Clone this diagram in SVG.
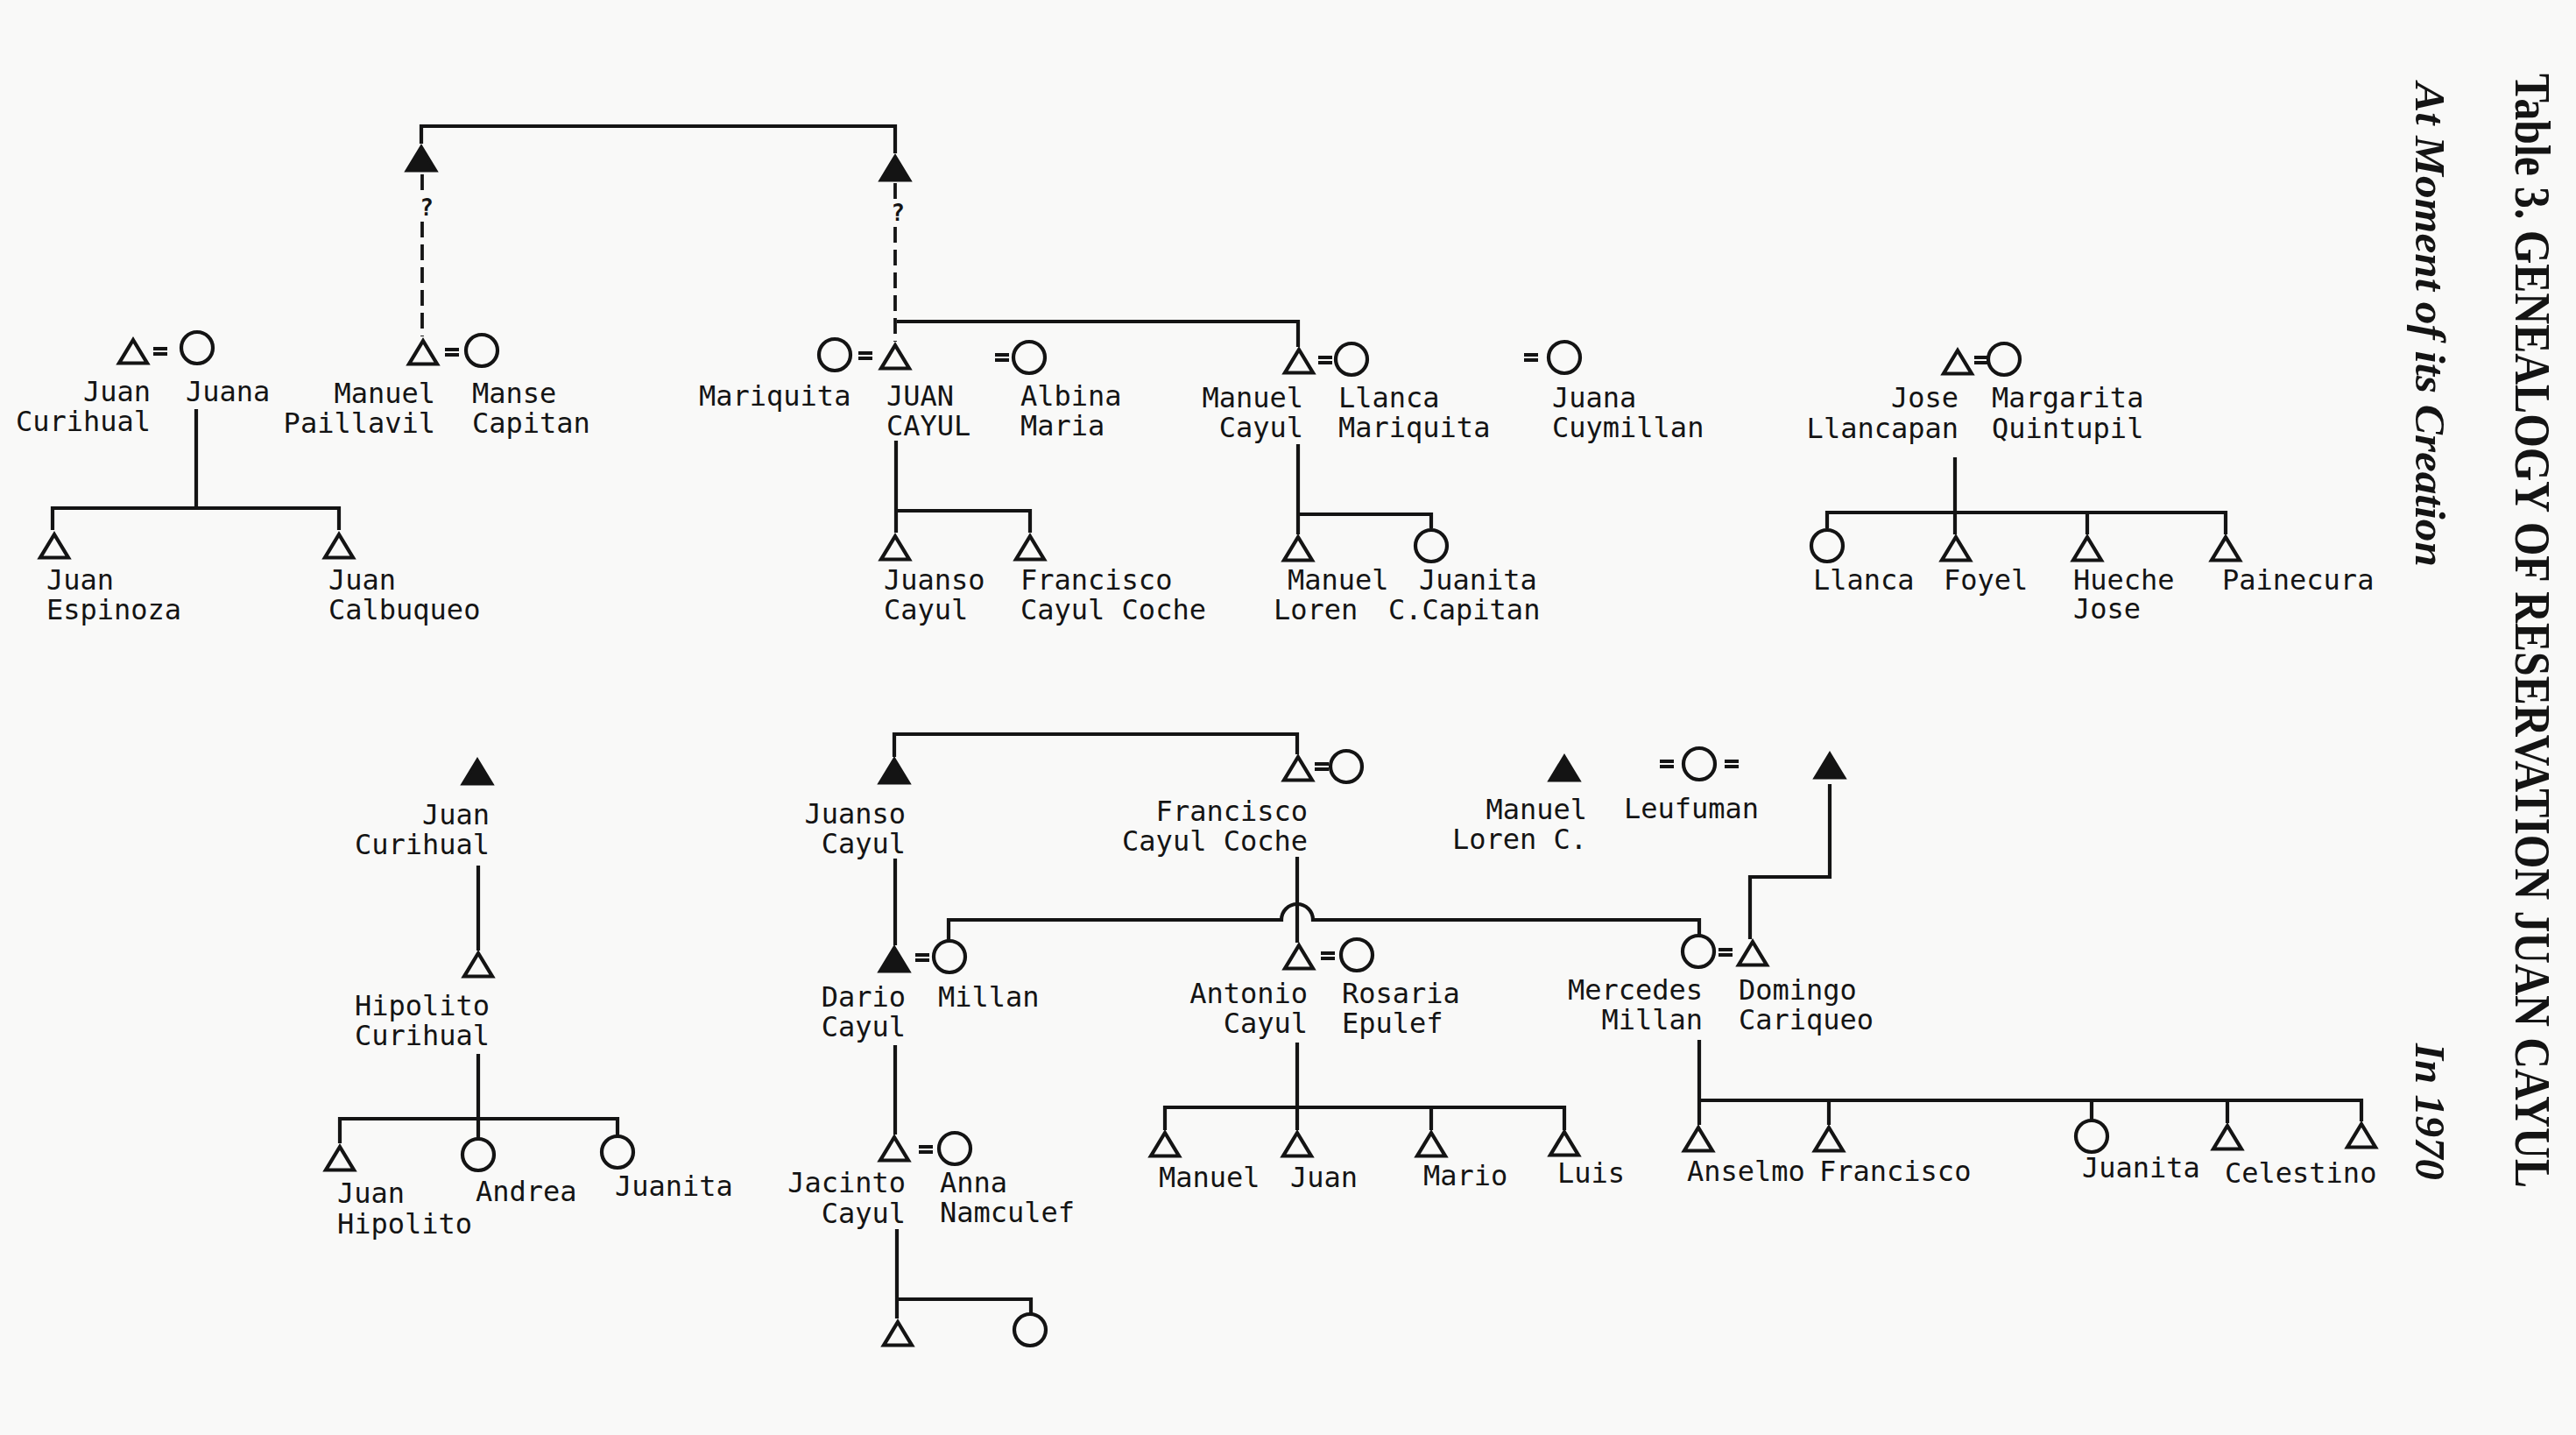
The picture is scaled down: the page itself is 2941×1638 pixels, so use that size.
<svg xmlns="http://www.w3.org/2000/svg" xmlns:xlink="http://www.w3.org/1999/xlink" width="2941" height="1638" viewBox="0 0 2941 1638">
<style>
.s{stroke:#141414;stroke-width:4.2;fill:none;stroke-linejoin:miter}
.f{stroke:#141414;stroke-width:4.2;fill:#141414;stroke-linejoin:miter}
.l{font-family:"DejaVu Sans Mono","Liberation Mono",monospace;font-size:32px;fill:#141414}
.e{text-anchor:end}
.q{font-family:"DejaVu Sans Mono","Liberation Mono",monospace;font-size:26px;font-weight:bold;fill:#141414;text-anchor:middle}
#connectors path{stroke:#141414;stroke-width:4.2;fill:none}
#connectors path.d{stroke-width:3.8;stroke-dasharray:18 8}
.eq rect{fill:#141414}
.ti{font-family:"Liberation Serif",serif;font-weight:bold;fill:#141414}
</style>
<defs>
<path id="t" d="M0,-13 L16,13.5 L-16,13.5 Z"/>
<circle id="c" r="18"/>
<g id="eq" class="eq"><rect x="-8" y="-5" width="16" height="4"/><rect x="-8" y="1" width="16" height="4"/></g>
</defs>
<rect width="2941" height="1638" fill="#f9f9f8"/>

<g id="title">
<text class="ti" font-size="58" transform="translate(2872,84) rotate(90)" textLength="1272" lengthAdjust="spacingAndGlyphs">Table 3. GENEALOGY OF RESERVATION JUAN CAYUL</text>
<text class="ti" font-size="48" font-style="italic" transform="translate(2758,94) rotate(90)" textLength="553" lengthAdjust="spacingAndGlyphs">At Moment of its Creation</text>
<text class="ti" font-size="48" font-style="italic" transform="translate(2758,1191) rotate(90)" textLength="156" lengthAdjust="spacingAndGlyphs">In 1970</text>
</g>

<g id="connectors">
<path d="M481,164 V144 H1022 V175"/>
<path class="d" d="M482,199 V218 M482,253 V384"/>
<path class="d" d="M1022,209 V227 M1022,259 V390"/>
<path d="M1024,367 H1482 V396"/>
<path d="M224,467 V580 M60,605 V580 H387 V605"/>
<path d="M1023,503 V583 H1176 V608 M1023,583 V608"/>
<path d="M1482,507 V587 H1634 V603 M1482,587 V610"/>
<path d="M2232,522 V585 M2086,603 V585 H2541 V610 M2232,585 V610 M2383,585 V610"/>
<path d="M1021,864 V838 H1481 V861"/>
<path d="M546,988 V1085"/>
<path d="M546,1203 V1277 M388,1305 V1277 H705 V1296 M546,1277 V1299"/>
<path d="M1022,980 V1079"/>
<path d="M2089,895 V1001 H1998 V1072"/>
<path d="M1083,1073 V1050 H1463 A18,18 0 0 1 1499,1050 H1940 V1067"/>
<path d="M1481,978 V1076"/>
<path d="M1481,1190 V1264 M1330,1290 V1264 H1786 V1290 M1481,1264 V1290 M1634,1264 V1290"/>
<path d="M1940,1187 V1256 H2696 V1280 M1940,1256 V1284 M2088,1256 V1284 M2388,1256 V1278 M2543,1256 V1282"/>
<path d="M1022,1193 V1295"/>
<path d="M1024,1403 V1505 M1024,1483 H1177 V1499"/>
<use href="#eq" x="183" y="401"/>
<use href="#eq" x="516" y="402"/>
<use href="#eq" x="988" y="406"/>
<use href="#eq" x="1144" y="408"/>
<use href="#eq" x="1513" y="411"/>
<use href="#eq" x="1748" y="408"/>
<use href="#eq" x="2262" y="411"/>
<use href="#eq" x="1509" y="875"/>
<use href="#eq" x="1903" y="872"/>
<use href="#eq" x="1977" y="872"/>
<use href="#eq" x="1053" y="1093"/>
<use href="#eq" x="1516" y="1091"/>
<use href="#eq" x="1970" y="1087"/>
<use href="#eq" x="1057" y="1312"/>
<text class="q" x="487" y="246">?</text>
<text class="q" x="1025" y="252">?</text>
</g>

<g id="n-juan-curihual-1"><use href="#t" class="s" x="152" y="401"/><text class="l e" x="172" y="458">Juan</text><text class="l e" x="172" y="492">Curihual</text></g>
<g id="n-juana"><use href="#c" class="s" x="225" y="397"/><text class="l" x="212" y="458">Juana</text></g>
<g id="n-manuel-paillavil"><use href="#t" class="s" x="483" y="402"/><text class="l e" x="497" y="460">Manuel</text><text class="l e" x="497" y="494">Paillavil</text></g>
<g id="n-manse-capitan"><use href="#c" class="s" x="550" y="400"/><text class="l" x="539" y="460">Manse</text><text class="l" x="539" y="494">Capitan</text></g>
<g id="n-ancestor-1"><use href="#t" class="f" x="481" y="181"/></g>
<g id="n-ancestor-2"><use href="#t" class="f" x="1022" y="192"/></g>
<g id="n-mariquita"><use href="#c" class="s" x="953" y="405"/><text class="l" x="798" y="463">Mariquita</text></g>
<g id="n-juan-cayul"><use href="#t" class="s" x="1022" y="407"/><text class="l" x="1012" y="463">JUAN</text><text class="l" x="1012" y="497">CAYUL</text></g>
<g id="n-albina-maria"><use href="#c" class="s" x="1175" y="408"/><text class="l" x="1165" y="463">Albina</text><text class="l" x="1165" y="497">Maria</text></g>
<g id="n-manuel-cayul"><use href="#t" class="s" x="1483" y="412"/><text class="l e" x="1488" y="465">Manuel</text><text class="l e" x="1488" y="499">Cayul</text></g>
<g id="n-llanca-mariquita"><use href="#c" class="s" x="1543" y="410"/><text class="l" x="1528" y="465">Llanca</text><text class="l" x="1528" y="499">Mariquita</text></g>
<g id="n-juana-cuymillan"><use href="#c" class="s" x="1786" y="408"/><text class="l" x="1772" y="465">Juana</text><text class="l" x="1772" y="499">Cuymillan</text></g>
<g id="n-jose-llancapan"><use href="#t" class="s" x="2235" y="413"/><text class="l e" x="2236" y="465">Jose</text><text class="l e" x="2236" y="500">Llancapan</text></g>
<g id="n-margarita-quintupil"><use href="#c" class="s" x="2288" y="410"/><text class="l" x="2274" y="465">Margarita</text><text class="l" x="2274" y="500">Quintupil</text></g>

<g id="n-juan-espinoza"><use href="#t" class="s" x="62" y="623"/><text class="l" x="53" y="673">Juan</text><text class="l" x="53" y="707">Espinoza</text></g>
<g id="n-juan-calbuqueo"><use href="#t" class="s" x="387" y="623"/><text class="l" x="375" y="673">Juan</text><text class="l" x="375" y="707">Calbuqueo</text></g>
<g id="n-juanso-cayul-1"><use href="#t" class="s" x="1022" y="625"/><text class="l" x="1009" y="673">Juanso</text><text class="l" x="1009" y="707">Cayul</text></g>
<g id="n-francisco-cayul-coche-1"><use href="#t" class="s" x="1176" y="625"/><text class="l" x="1165" y="673">Francisco</text><text class="l" x="1165" y="707">Cayul Coche</text></g>
<g id="n-manuel-loren-1"><use href="#t" class="s" x="1482" y="626"/><text class="l" x="1470" y="673">Manuel</text><text class="l" x="1454" y="707">Loren</text></g>
<g id="n-juanita-ccapitan"><use href="#c" class="s" x="1634" y="623"/><text class="l" x="1620" y="673">Juanita</text><text class="l" x="1585" y="707">C.Capitan</text></g>
<g id="n-llanca"><use href="#c" class="s" x="2086" y="623"/><text class="l" x="2070" y="673">Llanca</text></g>
<g id="n-foyel"><use href="#t" class="s" x="2233" y="626"/><text class="l" x="2219" y="673">Foyel</text></g>
<g id="n-hueche-jose"><use href="#t" class="s" x="2383" y="626"/><text class="l" x="2367" y="673">Hueche</text><text class="l" x="2367" y="706">Jose</text></g>
<g id="n-painecura"><use href="#t" class="s" x="2541" y="626"/><text class="l" x="2537" y="673">Painecura</text></g>

<g id="n-juan-curihual-2"><use href="#t" class="f" x="545" y="881"/><text class="l e" x="559" y="941">Juan</text><text class="l e" x="559" y="975">Curihual</text></g>
<g id="n-hipolito-curihual"><use href="#t" class="s" x="546" y="1101"/><text class="l e" x="559" y="1159">Hipolito</text><text class="l e" x="559" y="1193">Curihual</text></g>
<g id="n-juan-hipolito"><use href="#t" class="s" x="388" y="1322"/><text class="l" x="385" y="1373">Juan</text><text class="l" x="385" y="1408">Hipolito</text></g>
<g id="n-andrea"><use href="#c" class="s" x="546" y="1318"/><text class="l" x="543" y="1371">Andrea</text></g>
<g id="n-juanita-1"><use href="#c" class="s" x="705" y="1315"/><text class="l" x="702" y="1365">Juanita</text></g>

<g id="n-juanso-cayul-2"><use href="#t" class="f" x="1021" y="880"/><text class="l e" x="1034" y="940">Juanso</text><text class="l e" x="1034" y="974">Cayul</text></g>
<g id="n-francisco-cayul-coche-2"><use href="#t" class="s" x="1482" y="877"/><text class="l e" x="1493" y="937">Francisco</text><text class="l e" x="1493" y="971">Cayul Coche</text></g>
<g id="n-francisco-wife"><use href="#c" class="s" x="1537" y="875"/></g>
<g id="n-manuel-loren-2"><use href="#t" class="f" x="1786" y="877"/><text class="l e" x="1812" y="935">Manuel</text><text class="l e" x="1812" y="969">Loren C.</text></g>
<g id="n-leufuman"><use href="#c" class="s" x="1940" y="872"/><text class="l" x="1854" y="934">Leufuman</text></g>
<g id="n-domingo-father"><use href="#t" class="f" x="2089" y="874"/></g>

<g id="n-dario-cayul"><use href="#t" class="f" x="1021" y="1095"/><text class="l e" x="1034" y="1149">Dario</text><text class="l e" x="1034" y="1183">Cayul</text></g>
<g id="n-millan"><use href="#c" class="s" x="1084" y="1092"/><text class="l" x="1071" y="1149">Millan</text></g>
<g id="n-antonio-cayul"><use href="#t" class="s" x="1483" y="1092"/><text class="l e" x="1493" y="1145">Antonio</text><text class="l e" x="1493" y="1179">Cayul</text></g>
<g id="n-rosaria-epulef"><use href="#c" class="s" x="1549" y="1090"/><text class="l" x="1532" y="1145">Rosaria</text><text class="l" x="1532" y="1179">Epulef</text></g>
<g id="n-mercedes-millan"><use href="#c" class="s" x="1939" y="1086"/><text class="l e" x="1944" y="1141">Mercedes</text><text class="l e" x="1944" y="1175">Millan</text></g>
<g id="n-domingo-cariqueo"><use href="#t" class="s" x="2001" y="1088"/><text class="l" x="1985" y="1141">Domingo</text><text class="l" x="1985" y="1175">Cariqueo</text></g>

<g id="n-jacinto-cayul"><use href="#t" class="s" x="1021" y="1311"/><text class="l e" x="1034" y="1361">Jacinto</text><text class="l e" x="1034" y="1396">Cayul</text></g>
<g id="n-anna-namculef"><use href="#c" class="s" x="1090" y="1311"/><text class="l" x="1073" y="1361">Anna</text><text class="l" x="1073" y="1395">Namculef</text></g>
<g id="n-jacinto-son"><use href="#t" class="s" x="1025" y="1522"/></g>
<g id="n-jacinto-daughter"><use href="#c" class="s" x="1176" y="1518"/></g>

<g id="n-manuel"><use href="#t" class="s" x="1330" y="1306"/><text class="l" x="1323" y="1355">Manuel</text></g>
<g id="n-juan"><use href="#t" class="s" x="1481" y="1306"/><text class="l" x="1473" y="1355">Juan</text></g>
<g id="n-mario"><use href="#t" class="s" x="1634" y="1306"/><text class="l" x="1625" y="1353">Mario</text></g>
<g id="n-luis"><use href="#t" class="s" x="1786" y="1305"/><text class="l" x="1778" y="1350">Luis</text></g>

<g id="n-anselmo"><use href="#t" class="s" x="1939" y="1300"/><text class="l" x="1926" y="1348">Anselmo</text></g>
<g id="n-francisco"><use href="#t" class="s" x="2088" y="1300"/><text class="l" x="2077" y="1348">Francisco</text></g>
<g id="n-juanita-2"><use href="#c" class="s" x="2388" y="1297"/><text class="l" x="2377" y="1344">Juanita</text></g>
<g id="n-celestino"><use href="#t" class="s" x="2543" y="1298"/><text class="l" x="2540" y="1350">Celestino</text></g>
<g id="n-celestino-sib"><use href="#t" class="s" x="2696" y="1296"/></g>
</svg>
